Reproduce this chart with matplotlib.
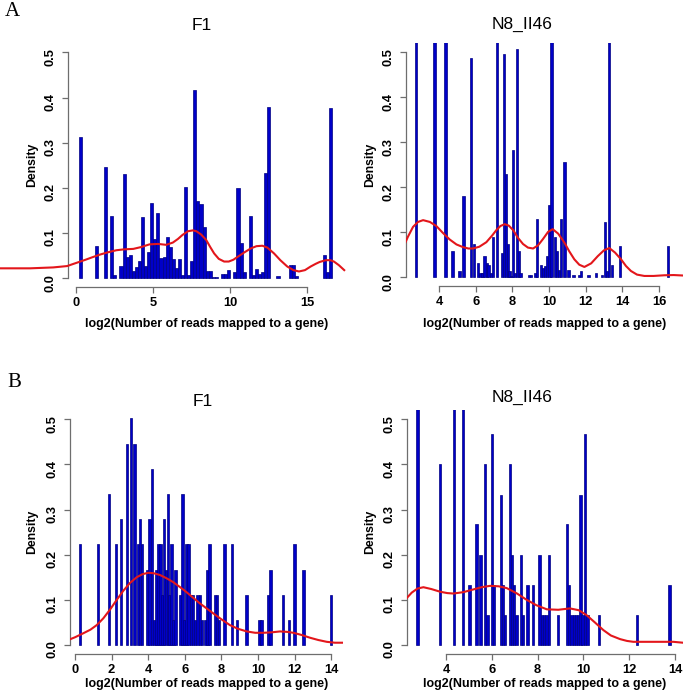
import numpy as np
import matplotlib.pyplot as plt

plt.rcParams['font.family'] = ['Liberation Sans', 'DejaVu Sans']

W, H = 683, 697

# ---- panel A, F1 (bin left edges, density) ----
a_f1_left = [0.2, 1.2, 1.8, 2.2, 2.4, 2.8, 3.0, 3.2, 3.4, 3.6, 3.8, 4.0, 4.2, 4.4,
             4.6, 4.8, 5.0, 5.2, 5.4, 5.6, 5.8, 6.0, 6.2, 6.4, 6.6, 6.8, 7.0, 7.2,
             7.4, 7.6, 7.8, 8.0, 8.2, 8.4, 8.6, 8.8, 9.0, 9.4, 9.6, 9.8, 10.2, 10.4,
             10.6, 10.8, 11.2, 11.4, 11.6, 11.8, 12.0, 12.2, 12.4, 13.0, 13.8, 14.0,
             14.2, 16.0, 16.2, 16.4]
a_f1_dens = [0.313, 0.072, 0.246, 0.137, 0.007, 0.028, 0.23, 0.047, 0.052, 0.015,
             0.024, 0.038, 0.135, 0.028, 0.058, 0.167, 0.088, 0.144, 0.044, 0.048,
             0.091, 0.069, 0.043, 0.022, 0.042, 0.007, 0.203, 0.008, 0.038, 0.417,
             0.172, 0.164, 0.114, 0.017, 0.017, 0.002, 0.002, 0.009, 0.009, 0.018,
             0.014, 0.2, 0.077, 0.014, 0.137, 0.007, 0.021, 0.009, 0.014, 0.232,
             0.38, 0.004, 0.03, 0.03, 0.004, 0.051, 0.013, 0.376]
a_f1_kx = [-4.93, -3.0, -1.5, -0.6, 0.0, 0.6, 1.0, 1.5, 2.0, 2.6, 3.1, 3.7, 4.2,
           4.75, 5.3, 5.84, 6.27, 6.6, 6.9, 7.25, 7.57, 7.8, 8.1, 8.43, 8.7, 8.95,
           9.25, 9.6, 9.9, 10.2, 10.46, 10.9, 11.33, 11.7, 12.08, 12.4, 12.84,
           13.25, 13.7, 14.1, 14.46, 14.85, 15.22, 15.55, 15.8, 16.2, 16.5, 16.73,
           17.05, 17.4]
a_f1_ky = [0.022, 0.022, 0.024, 0.027, 0.034, 0.041, 0.046, 0.052, 0.057, 0.062,
           0.064, 0.065, 0.069, 0.075, 0.076, 0.074, 0.079, 0.087, 0.096, 0.104,
           0.106, 0.104, 0.097, 0.085, 0.069, 0.055, 0.043, 0.037, 0.037, 0.041,
           0.047, 0.057, 0.066, 0.071, 0.072, 0.068, 0.055, 0.04, 0.026, 0.018,
           0.015, 0.018, 0.026, 0.032, 0.036, 0.04, 0.04, 0.037, 0.029, 0.018]

# ---- panel A, N8_II46 (bin centres, density) ----
a_n8_mid = [2.73, 3.76, 4.35, 4.74, 5.12, 5.34, 5.75, 5.91, 6.13, 6.27, 6.37, 6.47,
            6.6, 6.7, 6.82, 6.95, 7.15, 7.42, 7.53, 7.64, 7.75, 7.85, 7.95, 8.05,
            8.15, 8.25, 8.35, 8.45, 8.9, 9.0, 9.26, 9.36, 9.57, 9.68, 9.79, 9.9,
            10.02, 10.13, 10.32, 10.44, 10.55, 10.65, 10.85, 11.07, 11.33, 11.64,
            11.75, 12.15, 12.57, 12.88, 13.07, 13.16, 13.26, 13.44, 13.87, 16.48]
a_n8_dens = [0.9, 0.9, 0.9, 0.059, 0.015, 0.181, 0.487, 0.075, 0.031, 0.01, 0.01,
             0.047, 0.031, 0.027, 0.01, 0.09, 0.9, 0.053, 0.496, 0.23, 0.074, 0.013,
             0.003, 0.283, 0.009, 0.507, 0.059, 0.01, 0.005, 0.005, 0.01, 0.129,
             0.027, 0.02, 0.026, 0.047, 0.16, 0.9, 0.09, 0.059, 0.016, 0.129, 0.257,
             0.016, 0.005, 0.005, 0.015, 0.005, 0.01, 0.005, 0.124, 0.013, 0.9,
             0.027, 0.07, 0.07]
a_n8_kx = [2.04, 2.3, 2.58, 2.85, 3.13, 3.5, 3.85, 4.2, 4.58, 4.95, 5.31, 5.6, 5.85,
           6.2, 6.58, 6.9, 7.13, 7.35, 7.58, 7.8, 8.04, 8.3, 8.58, 8.85, 9.13, 9.4,
           9.67, 9.95, 10.2, 10.5, 10.84, 11.1, 11.38, 11.65, 11.93, 12.3, 12.66,
           13.0, 13.29, 13.6, 13.93, 14.2, 14.47, 14.8, 15.2, 15.7, 16.29, 16.8,
           17.3]
a_n8_ky = [0.066, 0.09, 0.112, 0.123, 0.127, 0.123, 0.114, 0.099, 0.084, 0.073,
           0.067, 0.064, 0.064, 0.068, 0.078, 0.093, 0.105, 0.114, 0.118, 0.115,
           0.105, 0.088, 0.074, 0.066, 0.064, 0.071, 0.085, 0.101, 0.107, 0.097,
           0.077, 0.058, 0.04, 0.028, 0.023, 0.031, 0.047, 0.06, 0.065, 0.055,
           0.04, 0.025, 0.014, 0.006, 0.003, 0.003, 0.0045, 0.005, 0.004]

# ---- panel B, F1 ----
b_f1_mid = [0.26, 1.25, 1.86, 2.25, 2.53, 2.85, 3.05, 3.25, 3.45, 3.56, 3.67, 3.97,
            4.07, 4.21, 4.34, 4.46, 4.57, 4.67, 4.78, 4.88, 4.98, 5.07, 5.17, 5.28,
            5.38, 5.49, 5.77, 5.88, 5.99, 6.1, 6.2, 6.33, 6.44, 6.55, 6.7, 6.82,
            6.93, 7.13, 7.25, 7.35, 7.66, 7.78, 7.88, 8.17, 8.57, 8.87, 9.38, 10.09,
            10.2, 10.58, 10.69, 11.38, 11.69, 11.99, 12.49, 13.99]
b_f1_dens = [0.223, 0.223, 0.335, 0.223, 0.279, 0.446, 0.502, 0.446, 0.223, 0.279,
             0.223, 0.167, 0.279, 0.391, 0.056, 0.167, 0.223, 0.223, 0.111, 0.279,
             0.167, 0.335, 0.111, 0.223, 0.056, 0.167, 0.111, 0.335, 0.056, 0.223,
             0.223, 0.111, 0.111, 0.056, 0.111, 0.111, 0.056, 0.056, 0.167, 0.223,
             0.111, 0.111, 0.056, 0.223, 0.223, 0.056, 0.111, 0.056, 0.056, 0.111,
             0.167, 0.111, 0.056, 0.223, 0.167, 0.111]
b_f1_kx = [-0.37, 0.0, 0.46, 0.85, 1.19, 1.55, 1.91, 2.25, 2.64, 3.0, 3.37, 3.7,
           4.01, 4.3, 4.65, 5.0, 5.38, 5.75, 6.1, 6.45, 6.83, 7.2, 7.56, 8.0, 8.47,
           8.9, 9.39, 9.85, 10.3, 10.75, 11.21, 11.6, 11.94, 12.4, 12.85, 13.3,
           13.76, 14.2, 14.6]
b_f1_ky = [0.011, 0.017, 0.026, 0.034, 0.044, 0.059, 0.078, 0.098, 0.12, 0.137,
           0.15, 0.157, 0.16, 0.159, 0.155, 0.148, 0.139, 0.128, 0.117, 0.105,
           0.092, 0.081, 0.07, 0.057, 0.044, 0.036, 0.03, 0.027, 0.027, 0.028,
           0.03, 0.029, 0.027, 0.022, 0.016, 0.011, 0.007, 0.005, 0.005]

# ---- panel B, N8_II46 ----
b_n8_mid = [2.76, 3.74, 4.34, 4.74, 5.03, 5.32, 5.51, 5.71, 5.8, 6.0, 6.1, 6.39,
            6.49, 6.58, 6.79, 6.88, 6.97, 7.07, 7.27, 7.37, 7.55, 7.79, 8.08, 8.18,
            8.28, 8.38, 8.49, 8.88, 9.28, 9.38, 9.48, 9.58, 9.67, 9.77, 9.87, 9.97,
            10.07, 10.17, 10.67, 12.35, 13.75]
b_n8_dens = [0.6, 0.4, 0.6, 0.6, 0.133, 0.267, 0.2, 0.4, 0.067, 0.467, 0.133, 0.333,
             0.133, 0.067, 0.4, 0.2, 0.133, 0.067, 0.2, 0.067, 0.133, 0.133, 0.2,
             0.067, 0.067, 0.067, 0.2, 0.067, 0.267, 0.133, 0.067, 0.067, 0.067,
             0.067, 0.333, 0.067, 0.467, 0.067, 0.067, 0.067, 0.133]
b_n8_kx = [2.21, 2.5, 2.75, 3.01, 3.35, 3.74, 4.05, 4.32, 4.75, 5.19, 5.55, 5.92,
           6.3, 6.65, 7.1, 7.52, 7.95, 8.4, 8.9, 9.41, 9.8, 10.14, 10.5, 10.87,
           11.2, 11.6, 11.9, 12.18, 12.7, 13.2, 13.6, 13.93, 14.35]
b_n8_ky = [0.1, 0.116, 0.125, 0.128, 0.124, 0.118, 0.115, 0.114, 0.117, 0.123,
           0.128, 0.131, 0.13, 0.126, 0.114, 0.1, 0.088, 0.079, 0.078, 0.081,
           0.077, 0.066, 0.05, 0.033, 0.021, 0.013, 0.009, 0.007, 0.007, 0.007,
           0.007, 0.007, 0.005]

y_ticks = [0.0, 0.1, 0.2, 0.3, 0.4, 0.5]
xlab = "log2(Number of reads mapped to a gene)"

BAR = "#0000C8"
EDGE = "#000080"
AXC = "#6E6E6E"

fig = plt.figure(figsize=(W / 100, H / 100), dpi=100)


def add_ax(x0, y0, x1, y1):
    return fig.add_axes([x0 / W, 1 - y1 / H, (x1 - x0) / W, (y1 - y0) / H])


def panel(box, xs, dens, width, align, kx, ky, xlim, xticks, title, title_xy,
          label_x, label_y, clip=True):
    ax = add_ax(*box)
    ax.bar(xs, dens, width=width, align=align, color=BAR, edgecolor=EDGE,
           linewidth=0.5)
    ax.plot(kx, ky, color="#E3161B", lw=1.5, clip_on=clip, zorder=3,
            solid_joinstyle="round")
    ax.set_xlim(*xlim)
    ax.set_ylim(-0.02, 0.52)
    ax.set_facecolor("none")
    for s in ["top", "right"]:
        ax.spines[s].set_visible(False)
    for s in ["left", "bottom"]:
        ax.spines[s].set_color(AXC)
        ax.spines[s].set_linewidth(0.9)
    ax.spines["left"].set_bounds(0, 0.5)
    ax.spines["bottom"].set_bounds(xticks[0], xticks[-1])
    ax.set_xticks(xticks)
    ax.set_xticklabels([str(t) for t in xticks])
    ax.set_yticks(y_ticks)
    ax.set_yticklabels(["%.1f" % t for t in y_ticks])
    ax.tick_params(axis="both", color=AXC, length=4, width=0.9,
                   labelsize=9.3)
    ax.tick_params(axis="y", labelrotation=90, pad=4)
    ax.tick_params(axis="x", pad=3)
    for t in ax.get_xticklabels() + ax.get_yticklabels():
        t.set_fontweight("bold")
    ax.set_ylabel("Density", fontsize=8.8, fontweight="bold", va="center")
    ax.yaxis.set_label_coords((label_x - box[0]) / (box[2] - box[0]), 0.5)
    ax.set_xlabel(xlab, fontsize=9, fontweight="bold", va="center")
    ax.xaxis.set_label_coords(0.5, (box[3] - label_y) / (box[3] - box[1]))
    fig.text(title_xy[0] / W, 1 - title_xy[1] / H, title, fontsize=12.5,
             ha="center", va="center")
    return ax


panel((68, 43.3, 345, 287.3), a_f1_left, a_f1_dens, 0.2, "edge",
      a_f1_kx, a_f1_ky, (-0.54, 17.45), [0, 5, 10, 15], "F1", (202, 25),
      32, 323.5, clip=False)
panel((405.7, 43.3, 683, 286.3), a_n8_mid, a_n8_dens, 0.13, "center",
      a_n8_kx, a_n8_ky, (2.18, 17.31), [4, 6, 8, 10, 12, 14, 16], "N8_II46",
      (521.7, 24), 370, 323.5)
panel((70, 410.3, 343, 654), b_f1_mid, b_f1_dens, 0.13, "center",
      b_f1_kx, b_f1_ky, (-0.27, 14.65), [0, 2, 4, 6, 8, 10, 12, 14], "F1",
      (203, 402), 32, 684)
panel((406.7, 410.3, 683, 654), b_n8_mid, b_n8_dens, 0.11, "center",
      b_n8_kx, b_n8_ky, (2.28, 14.35), [4, 6, 8, 10, 12, 14], "N8_II46",
      (521.7, 397.5), 370, 684)

fig.text(12 / W, 1 - 12 / H, "A", fontsize=15, family="Liberation Serif",
         ha="center", va="center")
fig.text(14 / W, 1 - 383 / H, "B", fontsize=15, family="Liberation Serif",
         ha="center", va="center")

fig.savefig("out.png", dpi=100)
